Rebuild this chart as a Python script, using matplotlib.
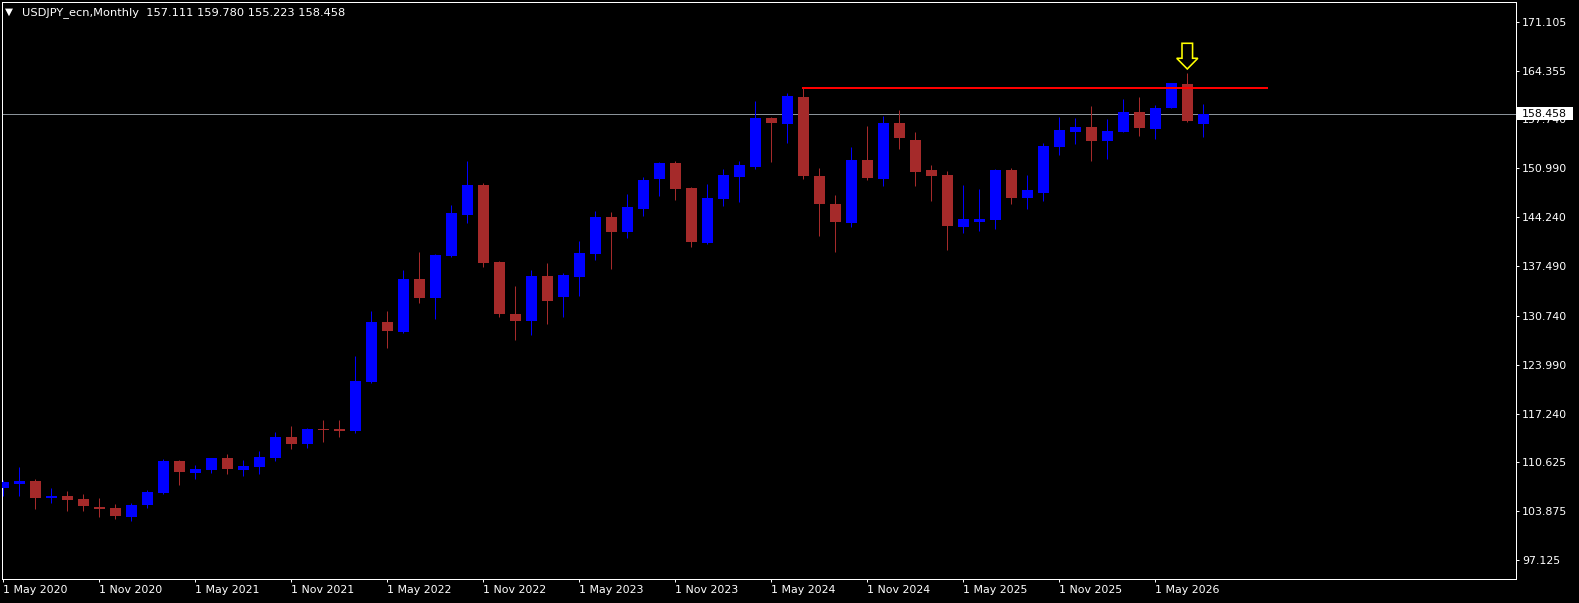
"""
USDJPY monthly candles, MT4 style dark chart
"""
import numpy as np
import pandas as pd
from matplotlib import pyplot as plt
from matplotlib.patches import Polygon, Rectangle
from matplotlib.transforms import blended_transform_factory

symbol = 'USDJPY_ecn,Monthly'
first_month = '2020-05-01'

# monthly OHLC, May 2020 .. Aug 2026
opens = [107.10, 107.65, 108.02, 105.72, 105.96, 105.54, 104.44, 104.31, 103.11, 104.76,
         106.37, 110.76, 109.16, 109.57, 111.18, 109.57, 109.94, 111.22, 114.06, 113.14,
         115.20, 115.16, 114.88, 121.66, 129.86, 128.52, 135.76, 133.19, 138.96, 144.55,
         148.67, 138.10, 130.96, 130.03, 136.18, 133.33, 136.08, 139.24, 144.28, 142.26,
         145.42, 149.54, 151.70, 148.26, 140.71, 146.79, 149.77, 151.15, 157.88, 157.10,
         160.76, 149.91, 146.07, 143.46, 152.11, 149.50, 157.19, 154.86, 150.74, 150.05,
         142.91, 143.59, 143.87, 150.74, 146.89, 147.58, 153.89, 155.95, 156.64, 154.72,
         155.95, 158.70, 156.37, 159.25, 162.55, 157.111]
highs = [108.15, 109.94, 108.29, 107.05, 106.64, 106.23, 105.68, 104.86, 104.99, 106.78,
         111.04, 110.90, 110.21, 111.20, 111.73, 110.90, 112.14, 114.75, 115.57, 115.30,
         116.40, 116.40, 125.19, 131.37, 131.37, 137.00, 139.47, 139.20, 145.93, 151.97,
         148.95, 138.24, 134.80, 137.00, 137.96, 136.59, 140.98, 145.10, 144.97, 147.44,
         149.77, 151.83, 151.97, 148.40, 148.81, 150.87, 152.01, 160.21, 158.02, 161.31,
         162.00, 151.01, 147.30, 153.89, 156.78, 158.15, 158.98, 155.95, 151.42, 150.60,
         148.67, 148.13, 150.87, 151.01, 150.05, 154.44, 158.02, 157.88, 159.53, 157.74,
         160.49, 160.76, 159.66, 162.69, 164.06, 159.780]
lows = [106.00, 106.00, 104.21, 105.03, 103.94, 103.94, 103.11, 102.84, 102.56, 104.35,
        106.23, 107.51, 108.33, 109.16, 109.02, 108.74, 109.02, 110.80, 112.45, 112.59,
        113.41, 114.10, 114.65, 121.52, 126.33, 128.40, 132.51, 130.31, 138.83, 143.50,
        137.45, 130.58, 127.38, 128.07, 129.62, 130.54, 133.47, 138.41, 137.18, 141.44,
        144.46, 147.21, 146.66, 140.20, 140.60, 145.83, 146.38, 150.83, 151.83, 154.44,
        149.50, 141.67, 139.47, 142.95, 149.36, 148.54, 153.62, 148.54, 146.48, 139.75,
        142.08, 142.36, 142.63, 146.07, 145.38, 146.48, 152.80, 154.31, 151.97, 152.25,
        155.95, 155.41, 154.99, 159.25, 157.33, 155.223]
closes = [107.88, 108.02, 105.72, 105.96, 105.45, 104.62, 104.21, 103.25, 104.72, 106.51,
          110.76, 109.29, 109.66, 111.18, 109.71, 110.08, 111.31, 114.06, 113.14, 115.16,
          115.02, 114.93, 121.75, 129.86, 128.66, 135.76, 133.19, 139.06, 144.83, 148.67,
          138.00, 131.00, 130.03, 136.18, 132.78, 136.31, 139.33, 144.28, 142.26, 145.65,
          149.40, 151.70, 148.17, 140.89, 146.89, 150.05, 151.42, 157.88, 157.19, 160.90,
          149.91, 146.07, 143.59, 152.11, 149.64, 157.19, 155.13, 150.46, 149.91, 143.04,
          144.00, 144.00, 150.74, 146.89, 147.99, 154.03, 156.23, 156.64, 154.72, 156.09,
          158.70, 156.50, 159.25, 162.69, 157.40, 158.458]

price_ticks = [171.105, 164.355, 157.740, 150.990, 144.240, 137.490, 130.740,
               123.990, 117.240, 110.625, 103.875, 97.125]

# horizontal level from the May 2024 high, and the marker bar
level_price = 162.00
level_start, level_end = 50, 79
marked_bar = 74

BULL = '#0000ff'
BEAR = '#a52a2a'
FG = 'white'

W, H = 1579, 603
PX = 0.72  # points per pixel at dpi 100

plt.rcParams['font.family'] = ['DejaVu Sans']

fig = plt.figure(figsize=(W / 100, H / 100), dpi=100, facecolor='black')
ax = fig.add_axes([2 / W, 24 / H, 1514 / W, 577 / H])
ax.set_facecolor('black')

o = np.asarray(opens)
h = np.asarray(highs)
l = np.asarray(lows)
c = np.asarray(closes)
x = np.arange(len(o))
colors = np.where(c >= o, BULL, BEAR)

ax.vlines(x, l, h, colors=colors, lw=1 * PX, zorder=2)
body = np.maximum(np.abs(c - o), 0.14)
ax.bar(x, body, bottom=np.minimum(o, c), width=0.69, color=colors, lw=0, zorder=3)

# bid line
ax.axhline(closes[-1], color='#8a9299', lw=1 * PX, zorder=1)

# resistance line
ax.plot([level_start, level_end], [level_price, level_price], color='#ff0000', lw=2 * PX, zorder=4)

# yellow down arrow over the marked bar
tip = highs[marked_bar] + 0.55
arrow = [(-0.33, tip + 3.53), (0.33, tip + 3.53), (0.33, tip + 1.47), (0.66, tip + 1.47),
         (0, tip), (-0.66, tip + 1.47), (-0.33, tip + 1.47)]
ax.add_patch(Polygon([(marked_bar + dx, yy) for dx, yy in arrow], closed=True,
                     fc='none', ec='#ffff00', lw=1.6 * PX, zorder=5))

ax.set_xlim(-0.08, -0.08 + 1514 / 16)
ax.set_ylim(94.55, 173.81)

# axes and ticks
for s in ax.spines.values():
    s.set_color(FG)
    s.set_linewidth(1 * PX)

ax.yaxis.tick_right()
ax.set_yticks(price_ticks, [f'{p:.3f}' for p in price_ticks])
months = pd.date_range(first_month, periods=len(o), freq='MS')
tick_idx = list(range(0, len(o), 6))
ax.set_xticks(tick_idx, [f'{months[i].day} {months[i].strftime("%b %Y")}' for i in tick_idx])
for lab in ax.get_xticklabels():
    lab.set_ha('left')
ax.tick_params(colors=FG, labelcolor=FG, length=3 * PX, width=1 * PX, labelsize=7.9)
ax.tick_params(axis='x', pad=3 * PX)
ax.tick_params(axis='y', pad=3 * PX)

# current price box on the right scale (white box, label hides the tick under it)
tr = blended_transform_factory(ax.transAxes, ax.transData)
ax.add_patch(Rectangle((1.0 + 1 / 1514, closes[-1] - 6.5 / 7.28), 56 / 1514, 13 / 7.28,
                       transform=tr, fc='white', ec='white', lw=0, clip_on=False, zorder=9))
ax.text(1.0 + 6 / 1514, closes[-1], f'{closes[-1]:.3f}', transform=tr, color='black',
        fontsize=7.9, va='center', ha='left', clip_on=False, zorder=10)

# header text
fig.text(5 / W, 1 - 12.2 / H, '\u25bc', color=FG, fontsize=7.5, va='center', ha='left')
fig.text(21.7 / W, 1 - 12.7 / H,
         f'{symbol}  {opens[-1]:.3f} {highs[-1]:.3f} {lows[-1]:.3f} {closes[-1]:.3f}',
         color=FG, fontsize=8.2, va='center', ha='left')

plt.savefig('out.png', dpi=100, facecolor='black')
